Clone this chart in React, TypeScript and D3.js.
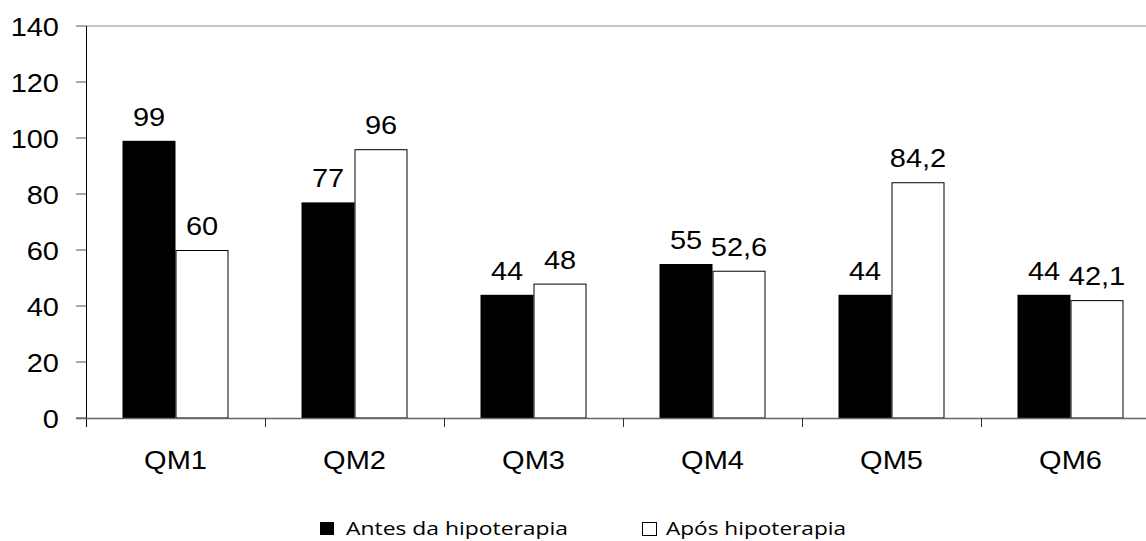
import React from "react";
import * as d3 from "d3";

const categories = ["QM1", "QM2", "QM3", "QM4", "QM5", "QM6"];
const antes = [99, 77, 44, 55, 44, 44];
const apos = [60, 96, 48, 52.6, 84.2, 42.1];
const antesLabels = ["99", "77", "44", "55", "44", "44"];
const aposLabels = ["60", "96", "48", "52,6", "84,2", "42,1"];
const yTicks = [0, 20, 40, 60, 80, 100, 120, 140];
const seriesNames = ["Antes da hipoterapia", "Após hipoterapia"];

const W = 1146;
const H = 541;
const left = 86;
const top = 26;
const bottom = 418;
const bandW = 179;
const SX = 1.16;

function T(props: { x: number; y: number; anchor: string; children: React.ReactNode }) {
  return (
    <text
      transform={`translate(${props.x},${props.y}) scale(${SX},1)`}
      textAnchor={props.anchor}
      fontFamily="Liberation Sans, Arial, sans-serif"
      fontSize={25}
      fill="#000"
    >
      {props.children}
    </text>
  );
}

export default function App() {
  const x = d3
    .scaleBand<string>()
    .domain(categories)
    .range([left, left + bandW * categories.length])
    .paddingInner(0)
    .paddingOuter(0);
  const y = d3.scaleLinear().domain([0, 140]).range([bottom, top]);
  const barW = 53;

  return (
    <svg
      width={W}
      height={H}
      style={{ position: "absolute", left: 0, top: 0, background: "#fff" }}
    >
      {/* top line */}
      <line x1={left} x2={W} y1={y(140)} y2={y(140)} stroke="#8c8c8c" strokeWidth={1} />
      {/* y ticks */}
      {yTicks.map((t) => (
        <g key={t}>
          <line x1={76} x2={left} y1={y(t)} y2={y(t)} stroke="#555" strokeWidth={1} />
          <T x={59} y={y(t) + 10} anchor="end">
            {t}
          </T>
        </g>
      ))}
      {/* bars */}
      {categories.map((c, i) => {
        const cx = (x(c) as number) + x.bandwidth() / 2;
        return (
          <g key={c}>
            <rect
              x={cx - barW}
              y={y(antes[i])}
              width={barW}
              height={bottom - y(antes[i])}
              fill="#000"
            />
            <rect
              x={cx + 0.5}
              y={y(apos[i]) + 0.5}
              width={barW - 1}
              height={bottom - y(apos[i]) - 0.5}
              fill="#fff"
              stroke="#000"
              strokeWidth={1}
            />
            <T x={cx - barW / 2} y={y(antes[i]) - 15} anchor="middle">
              {antesLabels[i]}
            </T>
            <T x={cx + barW / 2} y={y(apos[i]) - 15} anchor="middle">
              {aposLabels[i]}
            </T>
            <T x={cx} y={469} anchor="middle">
              {c}
            </T>
          </g>
        );
      })}
      {/* y axis */}
      <line x1={left + 0.5} x2={left + 0.5} y1={top} y2={427} stroke="#000" strokeWidth={1} />
      {/* x axis */}
      <line x1={76} x2={W} y1={bottom + 0.5} y2={bottom + 0.5} stroke="#666" strokeWidth={1.5} />
      {categories.map((c) => (
        <line
          key={"t" + c}
          x1={(x(c) as number) + x.bandwidth() + 0.5}
          x2={(x(c) as number) + x.bandwidth() + 0.5}
          y1={bottom}
          y2={427}
          stroke="#333"
          strokeWidth={1}
        />
      ))}
      {/* legend */}
      <rect x={320} y={522} width={14} height={13} fill="#000" />
      <text
        x={346}
        y={535}
        fontFamily="Open Sans, sans-serif"
        fontSize={18}
        textLength={222}
        lengthAdjust="spacingAndGlyphs"
      >
        {seriesNames[0]}
      </text>
      <rect x={642.5} y={522.5} width={14} height={13} fill="#fff" stroke="#000" strokeWidth={1} />
      <text
        x={666}
        y={535}
        fontFamily="Open Sans, sans-serif"
        fontSize={18}
        textLength={180}
        lengthAdjust="spacingAndGlyphs"
      >
        {seriesNames[1]}
      </text>
    </svg>
  );
}
